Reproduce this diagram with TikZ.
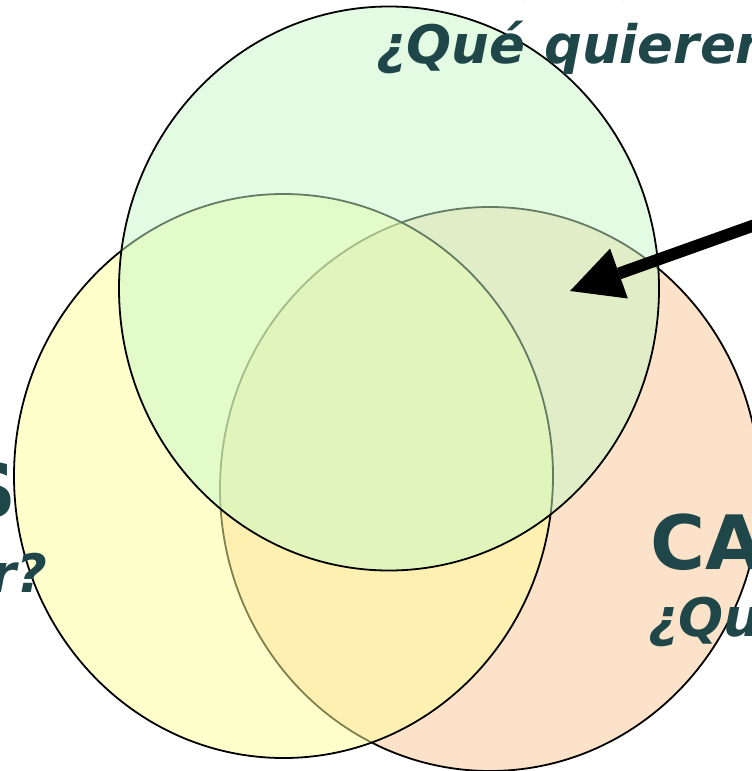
\documentclass[tikz,border=0pt]{standalone}
\usepackage{fontspec}
\setmainfont{DejaVu Sans}
\usetikzlibrary{arrows.meta}
\definecolor{txt}{HTML}{1F4749}
\definecolor{cgreen}{HTML}{C7F9C7}
\definecolor{cyellow}{HTML}{FFFF99}
\definecolor{corange}{HTML}{FBC793}
\tikzset{
  circ/.style={draw=black, line width=1.8pt, fill opacity=0.5},
  title/.style={inner sep=0pt, text=txt, font=\bfseries\fontsize{75}{80}\selectfont},
  sub/.style={inner sep=0pt, text=txt, font=\bfseries\itshape\fontsize{53}{58}\selectfont},
}
\begin{document}
\begin{tikzpicture}[x=1pt,y=-1pt]
\useasboundingbox (0,0) rectangle (752,771);
\clip (0,0) rectangle (752,771);
\fill[white] (0,0) rectangle (752,771);
\draw[circ, fill=corange] (490,489) ellipse [x radius=270, y radius=282];
\draw[circ, fill=cyellow] (283.5,476) ellipse [x radius=269.5, y radius=282];
\draw[circ, fill=cgreen] (389,288.5) ellipse [x radius=270, y radius=282];
\node[title, anchor=base west] (t1) at (376,-0.5) {NECESIDADES};
\node[sub, anchor=base west] (s1) at (376,63) {¿Qué quieren?};
\node[title, anchor=base east] (t2) at (17,517) {COMPETIDORES};
\node[sub, anchor=base east] (s2) at (48,592) {¿Qué pueden ofrecer?};
\node[title, anchor=base west] (t3) at (650,569) {CAPACIDADES};
\node[sub, anchor=base west] (s3) at (648,636) {¿Qué sabemos hacer?};
\coordinate (a0) at (790,212.5);
\coordinate (a1) at (570,291);
\draw[line width=12pt, -{Triangle[length=52pt,width=53pt,line width=0pt]}] (a0) -- (a1);
\end{tikzpicture}
\end{document}
